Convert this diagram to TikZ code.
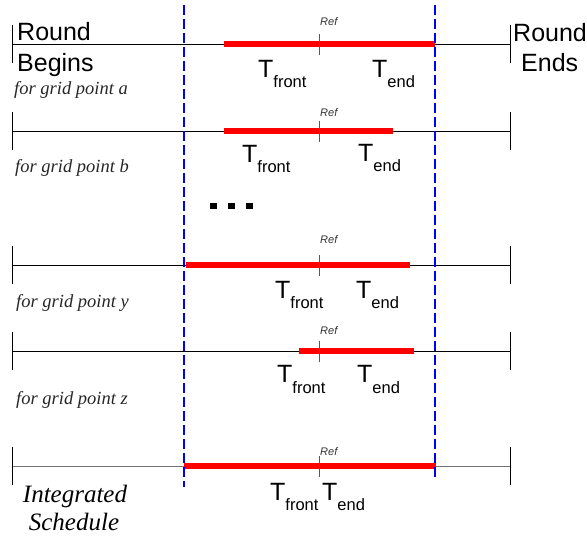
\documentclass[tikz,border=0pt]{standalone}
\usepackage{fontspec}
\setmainfont{Liberation Serif}
\setsansfont{Liberation Sans}
\newcommand{\Tsub}[1]{T\raisebox{-10pt}{\fontsize{16.5}{16.5}\selectfont #1}}
\begin{document}
\begin{tikzpicture}[x=1pt,y=-1pt,
	timeline/.style={line width=0.9pt},
	sched/.style={red,line width=6pt},
	bound/.style={blue,line width=1.4pt,dash pattern=on 10pt off 4pt},
	reftick/.style={black!65,line width=0.8pt},
	big/.style={inner sep=0pt,anchor=base west,font=\sffamily\fontsize{25}{25}\selectfont},
	gridlbl/.style={inner sep=0pt,anchor=base west,font=\itshape\fontsize{18.5}{18.5}\selectfont,text=black!85},
	reflbl/.style={inner sep=0pt,anchor=base west,font=\sffamily\itshape\fontsize{11}{11}\selectfont,text=black!80}]
	\useasboundingbox (0,0) rectangle (587,540);
	% one timeline per grid point, last one is the integrated schedule
	\foreach \r/\y/\s/\e/\c in {a/44/224/435/black, b/131/224/393/black, y/265/186/410/black, z/351/299/414/black, s/466/184/436/black!55}{
		\draw[timeline,\c] (12,\y) coordinate (\r begin) -- (510,\y) coordinate (\r end);
		\draw[timeline,black] (12,\y-19) -- (12,\y+19);
		\draw[timeline,black] (510,\y-19) -- (510,\y+19);
		\draw[sched] (\s,\y) -- (\e,\y);
		\draw[reftick] (319,\y-10) -- (319,\y+11);
	}
	% round limits
	\draw[bound] (184,5) -- (184,487);
	\draw[bound] (435,5) -- (435,478);
	% Ref labels
	\node[reflbl] (refa) at (320,26) {Ref};
	\node[reflbl] (refb) at (320,117) {Ref};
	\node[reflbl] (refy) at (320,244) {Ref};
	\node[reflbl] (refz) at (320,335) {Ref};
	\node[reflbl] (refs) at (320,455) {Ref};
	% T front / T end
	\node[big] (fronta) at (258,78) {\Tsub{front}};
	\node[big] (enda) at (372,78) {\Tsub{end}};
	\node[big] (frontb) at (242,163) {\Tsub{front}};
	\node[big] (endb) at (358,162) {\Tsub{end}};
	\node[big] (fronty) at (275,299) {\Tsub{front}};
	\node[big] (endy) at (356,299) {\Tsub{end}};
	\node[big] (frontz) at (277,383) {\Tsub{front}};
	\node[big] (endz) at (357,383) {\Tsub{end}};
	\node[big] (fronts) at (270,500) {\Tsub{front}};
	\node[big] (ends) at (322,500) {\Tsub{end}};
	% round begins / ends
	\node[big] (round1) at (17,41) {Round};
	\node[big] (begins) at (17,72) {Begins};
	\node[big] (round2) at (513,42) {Round};
	\node[big] (ends2) at (521,72) {Ends};
	% grid point labels
	\node[gridlbl] (gpa) at (14,95) {for grid point a};
	\node[gridlbl] (gpb) at (15,173) {for grid point b};
	\node[gridlbl] (gpy) at (16,308) {for grid point y};
	\node[gridlbl] (gpz) at (16,405) {for grid point z};
	\node[inner sep=0pt,anchor=base,font=\itshape\fontsize{25}{25}\selectfont] (integ) at (75,502) {Integrated};
	\node[inner sep=0pt,anchor=base,font=\itshape\fontsize{25}{25}\selectfont] (sched) at (74,530) {Schedule};
	% more grid points in between
	\foreach \x in {213.5,231.5,249.5}
		\fill (\x-3.5,203) rectangle (\x+3.5,209.5);
\end{tikzpicture}
\end{document}
